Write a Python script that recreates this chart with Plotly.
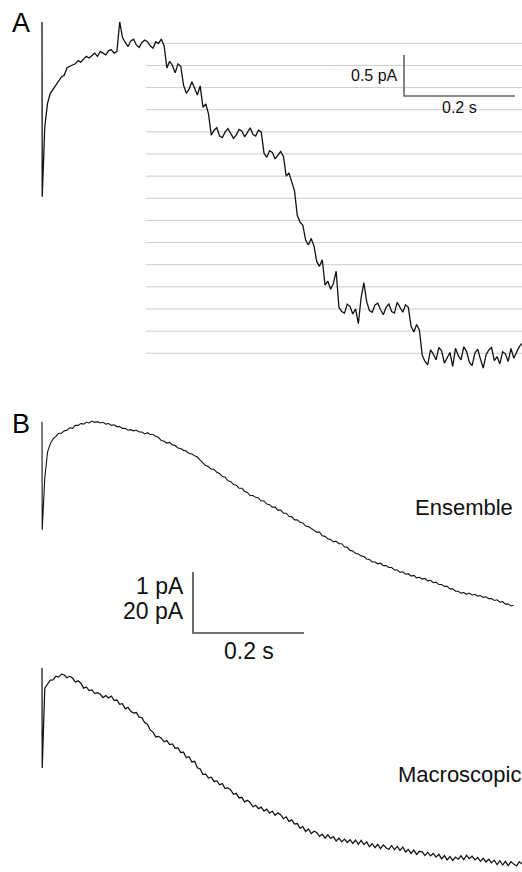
import plotly.graph_objects as go

# ---------------- data ----------------
DT = 0.005                 # sampling interval of the listed points, s
T_ONSET = [0.0, 0.0004]    # first two samples: onset and capacitive trough

# Panel A: single-channel trace, pA
trace_a_pA = [
    0.26, -1.87,
    -1.02, -0.73, -0.61, -0.56, -0.51, -0.47, -0.41, -0.39, -0.30, -0.28,
    -0.26, -0.25, -0.21, -0.23, -0.19, -0.16, -0.18, -0.15, -0.12, -0.16,
    -0.10, -0.12, -0.14, -0.09, -0.08, -0.12, -0.10, 0.26, 0.07, 0.01,
    -0.04, 0.03, 0.05, -0.02, -0.05, 0.01, 0.04, 0.02, -0.03, -0.06,
    0.02, 0.00, 0.05, -0.03,
    -0.30, -0.22, -0.27, -0.36, -0.25, -0.28,
    -0.51, -0.61, -0.56, -0.47, -0.54, -0.63, -0.52,
    -0.78, -0.74, -0.86,
    -1.12, -1.06, -1.03, -1.13, -1.15, -1.08, -1.04, -1.10, -1.16, -1.12,
    -1.05, -1.07, -1.14, -1.09, -1.03, -1.11, -1.13, -1.06, -1.08,
    -1.34, -1.39, -1.31, -1.33, -1.41, -1.37, -1.32, -1.38,
    -1.62, -1.58, -1.70, -1.80,
    -2.10, -2.18, -2.22,
    -2.40, -2.46, -2.38, -2.47,
    -2.66, -2.72, -2.64,
    -2.95, -2.90, -3.00, -2.93, -2.78,
    -3.22, -3.27, -3.29, -3.18, -3.21, -3.30, -3.24, -3.42, -3.10, -2.92,
    -3.15, -3.26, -3.28, -3.19, -3.17, -3.25, -3.31, -3.22, -3.18, -3.27,
    -3.29, -3.16, -3.23, -3.28, -3.19, -3.22,
    -3.45, -3.52, -3.43, -3.50,
    -3.80, -3.88, -3.92, -3.74, -3.79, -3.86, -3.71, -3.75, -3.90, -3.83,
    -3.77, -3.94, -3.72, -3.81, -3.86, -3.70, -3.76, -3.89, -3.93, -3.78,
    -3.73, -3.85, -3.96, -3.80, -3.74, -3.71, -3.87, -3.82, -3.91, -3.76,
    -3.79, -3.88, -3.72, -3.84, -3.77, -3.70, -3.66,
]

# Panel A: open-channel unit levels (gridlines), pA
unit_levels_pA = [0.0, -0.27, -0.54, -0.81, -1.08, -1.35, -1.62, -1.89,
                  -2.16, -2.43, -2.70, -2.97, -3.24, -3.51, -3.78]
grid_span_s = [0.187, 0.87]

# Panel B: ensemble average of single-channel sweeps, pA
ensemble_pA = [
    0.0, -1.77,
    -0.92, -0.50, -0.36, -0.28, -0.24, -0.19, -0.19, -0.15, -0.14, -0.10,
    -0.11, -0.06, -0.06, -0.03, -0.04, -0.01, -0.02, 0.01, -0.01, 0.00,
    -0.02, -0.01, -0.04, -0.03, -0.06, -0.05, -0.08, -0.08, -0.11, -0.11,
    -0.14, -0.13, -0.15, -0.14, -0.17, -0.17, -0.20, -0.18, -0.21, -0.21,
    -0.24, -0.26, -0.31, -0.32, -0.35, -0.34, -0.38, -0.39, -0.43, -0.44,
    -0.47, -0.48, -0.52, -0.53, -0.56, -0.58, -0.63, -0.67, -0.72, -0.74,
    -0.78, -0.78, -0.83, -0.85, -0.90, -0.91, -0.97, -0.98, -1.03, -1.04,
    -1.09, -1.09, -1.14, -1.16, -1.21, -1.21, -1.24, -1.25, -1.30, -1.30,
    -1.35, -1.36, -1.40, -1.40, -1.45, -1.45, -1.50, -1.50, -1.55, -1.56,
    -1.61, -1.61, -1.65, -1.66, -1.71, -1.72, -1.75, -1.77, -1.81, -1.81,
    -1.87, -1.88, -1.92, -1.93, -1.97, -1.96, -2.00, -2.00, -2.05, -2.06,
    -2.11, -2.12, -2.16, -2.17, -2.20, -2.21, -2.25, -2.26, -2.30, -2.30,
    -2.33, -2.32, -2.36, -2.36, -2.39, -2.39, -2.43, -2.43, -2.47, -2.46,
    -2.50, -2.49, -2.53, -2.52, -2.56, -2.55, -2.58, -2.57, -2.61, -2.60,
    -2.64, -2.63, -2.67, -2.67, -2.70, -2.70, -2.74, -2.74, -2.78, -2.78,
    -2.81, -2.80, -2.83, -2.81, -2.84, -2.83, -2.86, -2.85, -2.88, -2.87,
    -2.90, -2.90, -2.93, -2.92, -2.96, -2.95, -2.99, -2.99, -3.02, -3.01,
]

# Panel B: macroscopic current, pA
macro_pA = [
    0.0, -32.8,
    -6.6, -5.4, -4.0, -3.9, -2.7, -3.0, -2.0, -2.3, -3.2, -2.7,
    -3.3, -4.6, -4.2, -5.0, -6.6, -6.2, -7.4, -7.2, -8.4, -8.1,
    -8.6, -9.7, -9.0, -9.8, -9.2, -10.6, -10.5, -11.9, -11.7, -13.4,
    -12.9, -14.2, -14.8, -14.6, -16.1, -16.3, -17.9, -18.4, -20.3, -21.0,
    -22.6, -22.4, -23.0, -24.2, -23.8, -25.1, -24.9, -26.3, -26.2, -27.7,
    -27.6, -29.4, -29.1, -30.8, -30.6, -32.7, -33.1, -34.9, -34.8, -36.1,
    -35.8, -37.2, -37.0, -38.3, -37.9, -39.5, -39.3, -40.0, -41.4, -41.1,
    -42.6, -42.4, -43.9, -43.4, -44.1, -45.5, -45.0, -46.1, -45.6, -46.9,
    -46.3, -47.6, -46.9, -48.3, -47.5, -48.1, -49.4, -48.8, -50.3, -49.8,
    -51.2, -51.0, -52.6, -52.0, -53.6, -52.8, -54.3, -53.5, -53.9, -55.2,
    -54.5, -55.8, -54.7, -55.9, -55.3, -56.7, -55.8, -57.0, -56.1, -57.2,
    -56.3, -57.5, -56.4, -57.8, -56.5, -57.9, -57.0, -58.6, -57.6, -58.9,
    -57.8, -59.2, -58.0, -58.9, -59.5, -58.2, -59.6, -58.5, -59.8, -58.7,
    -60.3, -59.5, -60.8, -59.7, -61.1, -60.1, -60.3, -61.5, -60.4, -61.6,
    -60.8, -62.0, -61.1, -62.6, -61.5, -62.9, -61.8, -63.1, -62.0, -62.7,
    -61.6, -62.8, -61.4, -62.5, -61.7, -62.9, -62.1, -63.4, -62.4, -63.6,
    -62.7, -63.9, -63.0, -64.5, -63.2, -64.6, -63.4, -64.8, -63.5, -64.3,
    -64.9, -63.6, -64.2,
]

# scale bars (length in data units) and their corners
scale_a = dict(t0=0.6523, i0=-0.643, dt=0.2, di=0.5, tlabel="0.2 s", ilabel="0.5 pA")
scale_b = dict(t0=0.2721, i0=-3.464, dt=0.2, di=1.0, tlabel="0.2 s")

# ---------------- layout constants ----------------
W, H = 522, 872
FONT = "Liberation Sans, Arial, sans-serif"
X_RANGE = [-42 / 555, 480 / 555]          # seconds across the page
YA_RANGE = [-(H - 43.3) / 82, 43.3 / 82]   # panel A, 82 px per pA
YE_RANGE = [-(H - 421.7) / 61, 421.7 / 61] # ensemble, 61 px per pA
YM_RANGE = [-(H - 668) / 3.05, 668 / 3.05] # macroscopic, 3.05 px per pA


def times(values):
    return T_ONSET + [DT * i for i in range(1, len(values) - 1)]


def px(x, y):
    return dict(x=x / W, y=1 - y / H, xref="paper", yref="paper")


fig = go.Figure()

# gridlines of panel A
gx, gy = [], []
for lvl in unit_levels_pA:
    gx += [grid_span_s[0], grid_span_s[1], None]
    gy += [lvl, lvl, None]
fig.add_trace(go.Scatter(x=gx, y=gy, mode="lines", yaxis="y",
                         line=dict(color="#cdcdcd", width=1), hoverinfo="skip"))

fig.add_trace(go.Scatter(x=times(trace_a_pA), y=trace_a_pA, mode="lines", yaxis="y",
                         line=dict(color="#111111", width=1.3)))
fig.add_trace(go.Scatter(x=times(ensemble_pA), y=ensemble_pA, mode="lines", yaxis="y2",
                         line=dict(color="#111111", width=1.1)))
fig.add_trace(go.Scatter(x=times(macro_pA), y=macro_pA, mode="lines", yaxis="y3",
                         line=dict(color="#111111", width=1.25)))

# scale bars
for sb, ax, col in [(scale_a, "y", "#666666"), (scale_b, "y2", "#444444")]:
    fig.add_trace(go.Scatter(
        x=[sb["t0"], sb["t0"], sb["t0"] + sb["dt"]],
        y=[sb["i0"] + sb["di"], sb["i0"], sb["i0"]],
        mode="lines", yaxis=ax, line=dict(color=col, width=1.6), hoverinfo="skip"))

ann = []
# panel A scale labels
ann.append(dict(x=scale_a["t0"], y=scale_a["i0"] + scale_a["di"] * 0.49, xref="x", yref="y",
                text=scale_a["ilabel"], xanchor="right", yanchor="middle", xshift=-4,
                showarrow=False, font=dict(size=16, color="#111")))
ann.append(dict(x=scale_a["t0"] + scale_a["dt"] / 2, y=scale_a["i0"], xref="x", yref="y",
                text=scale_a["tlabel"], xanchor="center", yanchor="top", yshift=-1,
                showarrow=False, font=dict(size=16, color="#111")))
# panel B scale labels
ann.append(dict(x=scale_b["t0"], y=-2.69, xref="x", yref="y2", text="1 pA",
                xanchor="right", yanchor="middle", xshift=-7,
                showarrow=False, font=dict(size=23, color="#111")))
ann.append(dict(x=scale_b["t0"], y=-3.10, xref="x", yref="y2", text="20 pA",
                xanchor="right", yanchor="middle", xshift=-7,
                showarrow=False, font=dict(size=23, color="#111")))
ann.append(dict(x=scale_b["t0"] + scale_b["dt"] / 2, y=scale_b["i0"], xref="x", yref="y2",
                text=scale_b["tlabel"], xanchor="center", yanchor="top", yshift=-3,
                showarrow=False, font=dict(size=23, color="#111")))
# panel letters and trace labels
ann.append(dict(**px(10, 23), text="A", xanchor="left", yanchor="middle",
                showarrow=False, font=dict(size=27, color="#000")))
ann.append(dict(**px(10, 424), text="B", xanchor="left", yanchor="middle",
                showarrow=False, font=dict(size=27, color="#000")))
ann.append(dict(**px(413, 508), text="Ensemble", xanchor="left", yanchor="middle",
                showarrow=False, font=dict(size=22, color="#111")))
ann.append(dict(**px(396, 774), text="Macroscopic", xanchor="left", yanchor="middle",
                showarrow=False, font=dict(size=22, color="#111")))

hidden = dict(visible=False, showgrid=False, zeroline=False, fixedrange=True)
fig.update_layout(
    width=W, height=H,
    margin=dict(l=0, r=0, t=0, b=0, pad=0),
    paper_bgcolor="white", plot_bgcolor="white",
    showlegend=False,
    font=dict(family=FONT),
    xaxis=dict(range=X_RANGE, domain=[0, 1], **hidden),
    yaxis=dict(range=YA_RANGE, domain=[0, 1], anchor="x", **hidden),
    yaxis2=dict(range=YE_RANGE, domain=[0, 1], anchor="x", overlaying="y", **hidden),
    yaxis3=dict(range=YM_RANGE, domain=[0, 1], anchor="x", overlaying="y", **hidden),
    annotations=ann,
)

fig.write_html("out.html", config=dict(displayModeBar=False))
